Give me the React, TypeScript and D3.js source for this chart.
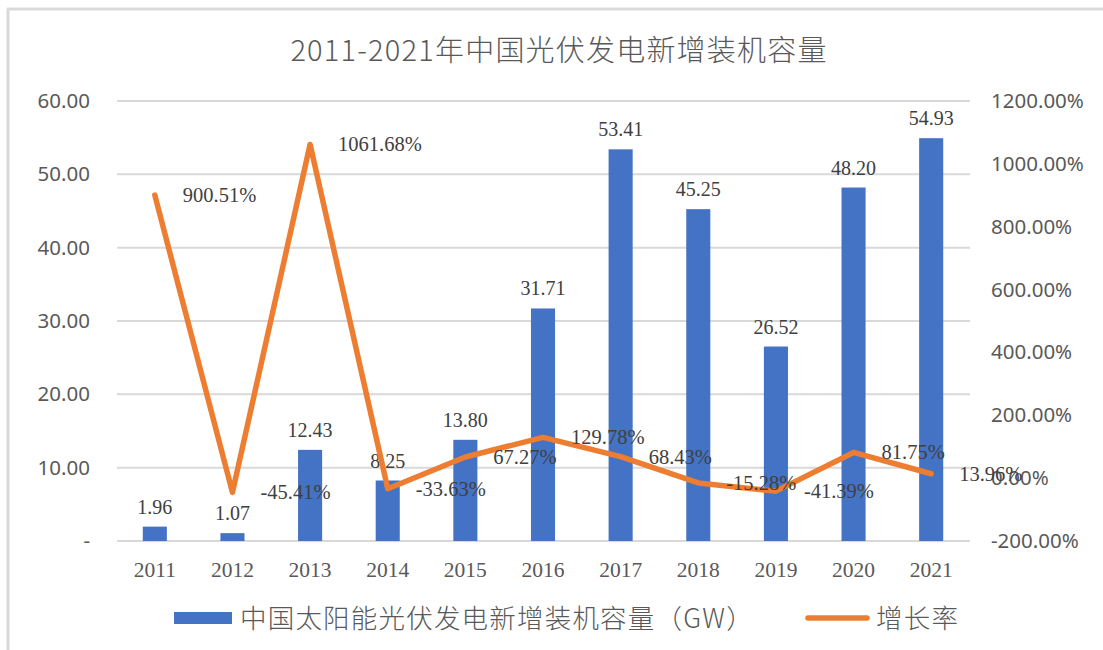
import React from "react";
import * as d3 from "d3";

const years = ["2011","2012","2013","2014","2015","2016","2017","2018","2019","2020","2021"];
const capacity = [1.96, 1.07, 12.43, 8.25, 13.80, 31.71, 53.41, 45.25, 26.52, 48.20, 54.93];
const growth = [900.51, -45.41, 1061.68, -33.63, 67.27, 129.78, 68.43, -15.28, -41.39, 81.75, 13.96];
const leftTicks = [0, 10, 20, 30, 40, 50, 60];
const rightTicks = [-200, 0, 200, 400, 600, 800, 1000, 1200];
const title = "2011-2021年中国光伏发电新增装机容量";
const barName = "中国太阳能光伏发电新增装机容量（GW）";
const lineName = "增长率";

const W = 1103, H = 650;
const top = 101, bottom = 541, left = 116, right = 970;
const BLUE = "#4472C4", ORANGE = "#ED7D31", GRID = "#d9d9d9";
const AXIS_TXT = "#595959", LBL = "#404040";
const SANS = "'Noto Sans', 'DejaVu Sans', sans-serif";
const SERIF = "'Liberation Serif', 'DejaVu Serif', serif";
const CJK = "'Noto Sans CJK SC', 'Noto Sans', sans-serif";

const loc = d3.formatLocale({ decimal: ".", thousands: ",", grouping: [3], currency: ["", ""], minus: "-" });
const f2 = loc.format(".2f");

export default function App() {
  const x = d3.scaleBand<string>().domain(years).range([left, right]).padding(0);
  const yL = d3.scaleLinear().domain([0, 60]).range([bottom, top]);
  const yR = d3.scaleLinear().domain([-200, 1200]).range([bottom, top]);
  const bw = x.bandwidth() * 0.31;
  const cx = (y: string) => (x(y) as number) + x.bandwidth() / 2;
  const line = d3.line<number>().x((_, i) => cx(years[i])).y((d) => yR(d));

  return (
    <svg width={W} height={H} style={{ position: "absolute", left: 0, top: 0, background: "#fff" }}>
      <rect x={0} y={0} width={W} height={H} fill="#fff" />
      <line x1={7} y1={9} x2={W} y2={9} stroke={GRID} strokeWidth={3} />
      <line x1={8} y1={9} x2={8} y2={H} stroke={GRID} strokeWidth={3} />
      <text x={559} y={61} textAnchor="middle" fontFamily={CJK} fontSize={29} fontWeight={300} letterSpacing={1.2} fill={AXIS_TXT}>{title}</text>

      {leftTicks.map((t) => (
        <g key={"g" + t}>
          <line x1={left + 1} x2={right} y1={yL(t)} y2={yL(t)} stroke={GRID} strokeWidth={2} />
          <text x={90} y={yL(t) + 7} textAnchor="end" fontFamily={SANS} fontSize={20.5} fill={AXIS_TXT}>{t === 0 ? "-" : f2(t)}</text>
        </g>
      ))}
      {rightTicks.map((t) => (
        <text key={"r" + t} x={991} y={yR(t) + 7} textAnchor="start" fontFamily={SANS} fontSize={20.5} fill={AXIS_TXT}>{f2(t) + "%"}</text>
      ))}

      {years.map((yr, i) => (
        <g key={yr}>
          <rect x={cx(yr) - bw / 2} y={yL(capacity[i])} width={bw} height={bottom - yL(capacity[i])} fill={BLUE} />
          <text x={cx(yr)} y={yL(capacity[i]) - 13} textAnchor="middle" fontFamily={SERIF} fontSize={20} fill={LBL}>{f2(capacity[i])}</text>
          <text x={cx(yr)} y={577} textAnchor="middle" fontFamily={SERIF} fontSize={21.5} fill={AXIS_TXT}>{yr}</text>
        </g>
      ))}

      <path d={line(growth) || ""} fill="none" stroke={ORANGE} strokeWidth={5.5} strokeLinejoin="round" strokeLinecap="round" />
      {years.map((yr, i) => (
        <text key={"l" + yr} x={cx(yr) + 28} y={yR(growth[i]) + 7} textAnchor="start" fontFamily={SERIF} fontSize={20.5} fill={LBL}>{f2(growth[i]) + "%"}</text>
      ))}

      <rect x={174} y={612} width={58} height={12} fill={BLUE} />
      <text x={240} y={628} fontFamily={CJK} fontSize={26.5} fontWeight={300} letterSpacing={1.2} fill={AXIS_TXT}>{barName}</text>
      <line x1={808} x2={867} y1={618} y2={618} stroke={ORANGE} strokeWidth={5.5} strokeLinecap="round" />
      <text x={876} y={628} fontFamily={CJK} fontSize={26.5} fontWeight={300} letterSpacing={1.2} fill={AXIS_TXT}>{lineName}</text>
    </svg>
  );
}
